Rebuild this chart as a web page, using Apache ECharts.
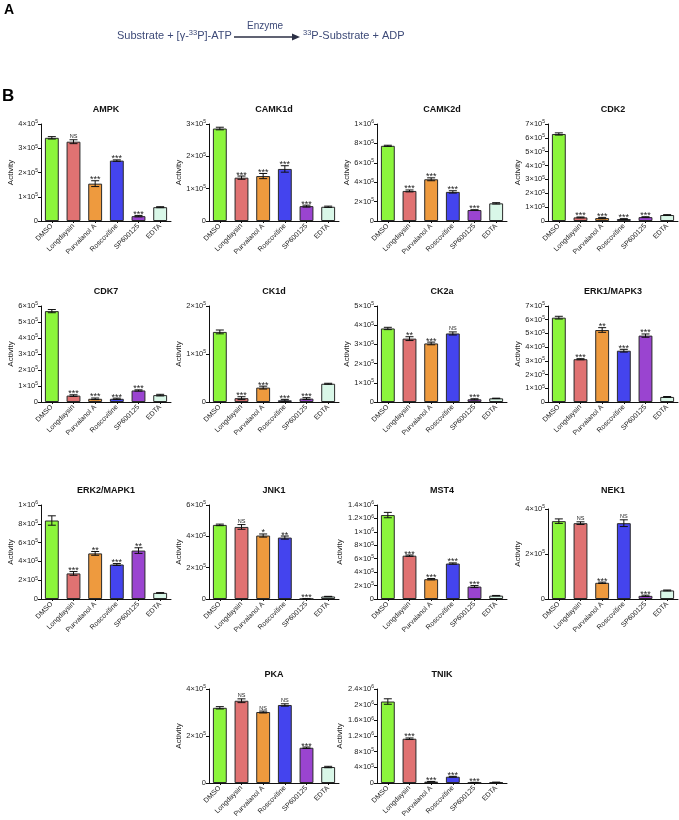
<!DOCTYPE html>
<html>
<head>
	<meta charset="utf-8">
	<title>Kinase activity</title>
	<script src="https://cdn.jsdelivr.net/npm/echarts@6/dist/echarts.min.js"></script>
	<style>
        html,body{
            height:100%;
            width: 100%;
            margin: 0;
            padding: 0;
            background: #ffffff;
        }
        #chart{
            width: 679px;
            height: 820px;
        }
    </style>
</head>
<body>
	<div id="chart"></div>
	<script type="text/javascript">
			// data
			var categories = ['DMSO', 'Longdaysin', 'Purvalanol A', 'Roscovitine', 'SP600125', 'EDTA'];
			var kinases = ['AMPK', 'CAMK1d', 'CAMK2d', 'CDK2', 'CDK7', 'CK1d', 'CK2a', 'ERK1/MAPK3',
							'ERK2/MAPK1', 'JNK1', 'MST4', 'NEK1', 'PKA', 'TNIK'];
			var activity = [
				[3.43e5, 3.27e5, 1.54e5, 2.49e5, 0.20e5, 0.57e5],
				[2.86e5, 1.34e5, 1.39e5, 1.61e5, 0.46e5, 0.44e5],
				[7.75e5, 3.10e5, 4.30e5, 3.00e5, 1.13e5, 1.82e5],
				[6.28e5, 0.26e5, 0.21e5, 0.14e5, 0.28e5, 0.43e5],
				[5.68e5, 0.40e5, 0.20e5, 0.20e5, 0.72e5, 0.43e5],
				[1.46e5, 0.08e5, 0.30e5, 0.035e5, 0.07e5, 0.38e5],
				[3.83e5, 3.30e5, 3.05e5, 3.57e5, 0.14e5, 0.19e5],
				[6.15e5, 3.12e5, 5.25e5, 3.74e5, 4.84e5, 0.37e5],
				[8.35e5, 2.72e5, 4.85e5, 3.67e5, 5.15e5, 0.65e5],
				[4.73e5, 4.60e5, 4.05e5, 3.92e5, 0.01e5, 0.16e5],
				[1.25e6, 0.645e6, 0.295e6, 0.528e6, 0.185e6, 0.05e6],
				[3.46e5, 3.37e5, 0.72e5, 3.37e5, 0.14e5, 0.38e5],
				[3.20e5, 3.50e5, 3.02e5, 3.32e5, 1.50e5, 0.68e5],
				[2.08e6, 1.13e6, 0.035e6, 0.16e6, 0.012e6, 0.018e6]
			];
			var errors = [
				[0.05e5, 0.08e5, 0.12e5, 0.03e5, 0.03e5, 0.02e5],
				[0.04e5, 0.05e5, 0.08e5, 0.10e5, 0.03e5, 0.02e5],
				[0.06e5, 0.10e5, 0.15e5, 0.12e5, 0.03e5, 0.07e5],
				[0.08e5, 0.03e5, 0.05e5, 0.03e5, 0.03e5, 0.03e5],
				[0.10e5, 0.05e5, 0.05e5, 0.04e5, 0.04e5, 0.05e5],
				[0.04e5, 0.03e5, 0.03e5, 0.02e5, 0.02e5, 0.01e5],
				[0.06e5, 0.10e5, 0.07e5, 0.08e5, 0.03e5, 0.01e5],
				[0.10e5, 0.04e5, 0.17e5, 0.10e5, 0.12e5, 0.03e5],
				[0.50e5, 0.20e5, 0.20e5, 0.10e5, 0.30e5, 0.03e5],
				[0.05e5, 0.15e5, 0.10e5, 0.10e5, 0.01e5, 0.01e5],
				[0.04e6, 0.01e6, 0.01e6, 0.01e6, 0.015e6, 0.003e6],
				[0.10e5, 0.06e5, 0.03e5, 0.15e5, 0.03e5, 0.02e5],
				[0.05e5, 0.08e5, 0.04e5, 0.05e5, 0.03e5, 0.03e5],
				[0.07e6, 0.02e6, 0.005e6, 0.01e6, 0.004e6, 0.004e6]
			];
			var significance = [
				['', 'NS', '***', '***', '***', ''],
				['', '***', '***', '***', '***', ''],
				['', '***', '***', '***', '***', ''],
				['', '***', '***', '***', '***', ''],
				['', '***', '***', '***', '***', ''],
				['', '***', '***', '***', '***', ''],
				['', '**', '***', 'NS', '***', ''],
				['', '***', '**', '***', '***', ''],
				['', '***', '**', '***', '**', ''],
				['', 'NS', '*', '**', '***', ''],
				['', '***', '***', '***', '***', ''],
				['', 'NS', '***', 'NS', '***', ''],
				['', 'NS', 'NS', 'NS', '***', ''],
				['', '***', '***', '***', '***', '']
			];
			var axisMax = [4e5, 3e5, 1e6, 7e5, 6e5, 2e5, 5e5, 7e5, 1e6, 6e5, 1.4e6, 4e5, 4e5, 2.4e6];
			var axisStep = [1e5, 1e5, 2e5, 1e5, 1e5, 1e5, 1e5, 1e5, 2e5, 2e5, 2e5, 2e5, 2e5, 4e5];

			// layout / style
			var barColors = ['#8cf53c', '#e07272', '#ee9a3e', '#4444ee', '#9a44d0', '#d9f7e8'];
			var colLeft = [41, 209, 377, 548];
			var rowTop = [124, 306, 505, 689];
			var rowBottom = [221, 402, 599, 783];
			var cells = [[0,0],[0,1],[0,2],[0,3],[1,0],[1,1],[1,2],[1,3],[2,0],[2,1],[2,2],[2,3],[3,1],[3,2]];
			var FONT = 'Liberation Sans, Arial, sans-serif';

			function sci(v) {
				if (v === 0) return '0';
				var e = Math.floor(Math.log10(v) + 1e-9);
				var m = Math.round(v / Math.pow(10, e) * 10) / 10;
				return '{m|' + m + '×10}{e|' + e + '}';
			}

			var chart = echarts.init(document.getElementById('chart'));
			var grids = [], xAxes = [], yAxes = [], titles = [], series = [];

			kinases.forEach(function (name, k) {
				var r = cells[k][0], c = cells[k][1];
				var top = rowTop[r] + (name === 'NEK1' ? 4 : 0);
				var left = colLeft[c];
				grids.push({left: left, top: top, width: 130, height: rowBottom[r] - top, outerBoundsMode: 'none'});
				titles.push({
					text: name, left: left + 65, top: rowTop[r] - 19, textAlign: 'center', padding: 0,
					textStyle: {fontSize: 9, fontWeight: 'bold', color: '#111', fontFamily: FONT}
				});
				xAxes.push({
					type: 'category', gridIndex: k, data: categories,
					axisLine: {lineStyle: {color: '#111', width: 1}},
					axisTick: {show: true, alignWithLabel: true, length: 2, lineStyle: {color: '#111'}},
					axisLabel: {rotate: 45, fontSize: 7, color: '#222', margin: 4, interval: 0, fontFamily: FONT}
				});
				yAxes.push({
					type: 'value', gridIndex: k, min: 0, max: axisMax[k], interval: axisStep[k],
					name: 'Activity', nameLocation: 'middle', nameGap: 25,
					nameTextStyle: {fontSize: 8, color: '#222', fontFamily: FONT},
					axisLine: {show: true, lineStyle: {color: '#111', width: 1}},
					axisTick: {show: true, length: 3, lineStyle: {color: '#111'}},
					splitLine: {show: false},
					axisLabel: {
						formatter: sci, margin: 3, color: '#222', fontSize: 7.5, fontFamily: FONT,
						rich: {
							m: {fontSize: 7.5, color: '#222', fontFamily: FONT},
							e: {fontSize: 5, color: '#222', fontFamily: FONT, padding: [0, 0, 4, 0]}
						}
					}
				});
				series.push({
					type: 'bar', xAxisIndex: k, yAxisIndex: k, barWidth: '64%',
					data: activity[k].map(function (v, i) {
						return {value: v, itemStyle: {color: barColors[i]}};
					}),
					itemStyle: {borderColor: '#2a2a2a', borderWidth: 1},
					animation: false
				});
				var sig = significance[k];
				series.push({
					type: 'custom', xAxisIndex: k, yAxisIndex: k, z: 5,
					data: activity[k].map(function (v, i) { return [i, v, errors[k][i]]; }),
					renderItem: function (params, api) {
						var x = api.value(0), v = api.value(1), e = api.value(2);
						var hi = api.coord([x, v + e]);
						var lo = api.coord([x, Math.max(v - e, 0)]);
						var w = 4;
						var kids = [
							{type: 'line', shape: {x1: hi[0], y1: hi[1], x2: lo[0], y2: lo[1]}, style: {stroke: '#111', lineWidth: 1}},
							{type: 'line', shape: {x1: hi[0] - w, y1: hi[1], x2: hi[0] + w, y2: hi[1]}, style: {stroke: '#111', lineWidth: 1}},
							{type: 'line', shape: {x1: lo[0] - w, y1: lo[1], x2: lo[0] + w, y2: lo[1]}, style: {stroke: '#111', lineWidth: 1}}
						];
						var s = sig[params.dataIndex];
						if (s) {
							var ns = s === 'NS';
							kids.push({
								type: 'text', x: hi[0], y: hi[1] + (ns ? 0 : 3.5),
								style: {
									text: s, textAlign: 'center', textVerticalAlign: 'bottom',
									fontSize: ns ? 5.5 : 9, fill: '#222', fontFamily: FONT
								}
							});
						}
						return {type: 'group', children: kids};
					},
					animation: false
				});
			});

			var eqColor = '#3d4a78';
			var option = {
				backgroundColor: '#ffffff',
				animation: false,
				title: titles,
				grid: grids,
				xAxis: xAxes,
				yAxis: yAxes,
				series: series,
				graphic: [
					{type: 'text', left: 4, top: 3, style: {text: 'A', fontSize: 14, fontWeight: 'bold', fill: '#000', fontFamily: FONT}},
					{type: 'text', left: 2, top: 88, style: {text: 'B', fontSize: 17, fontWeight: 'bold', fill: '#000', fontFamily: FONT}},
					{type: 'text', left: 117, top: 29, style: {
						text: 'Substrate + [γ-{s|33}P]-ATP', fontSize: 11, fill: eqColor, fontFamily: FONT,
						rich: {s: {fontSize: 7.5, fill: eqColor, fontFamily: FONT, padding: [0, 0, 5, 0]}}
					}},
					{type: 'text', left: 247, top: 21, style: {text: 'Enzyme', fontSize: 10, fill: eqColor, fontFamily: FONT}},
					{type: 'line', shape: {x1: 234, y1: 37, x2: 293, y2: 37}, style: {stroke: '#2b2f45', lineWidth: 1.3}},
					{type: 'polygon', shape: {points: [[292, 33.5], [300, 37], [292, 40.5]]}, style: {fill: '#2b2f45'}},
					{type: 'text', left: 303, top: 29, style: {
						text: '{s|33}P-Substrate + ADP', fontSize: 11, fill: eqColor, fontFamily: FONT,
						rich: {s: {fontSize: 7.5, fill: eqColor, fontFamily: FONT, padding: [0, 0, 5, 0]}}
					}}
				]
			};

			chart.setOption(option);
		</script>
</body>
</html>
